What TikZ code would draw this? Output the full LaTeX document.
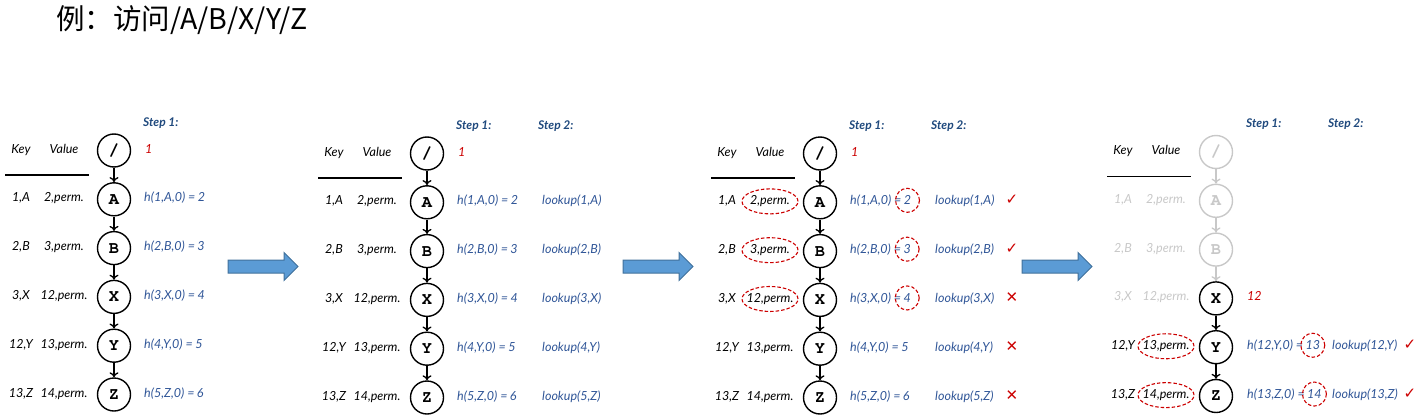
\documentclass[tikz,border=0pt]{standalone}
\usepackage{fontspec}
\setmainfont{Lato}
\setmonofont{TeX Gyre Cursor}
\newfontfamily\cjk{Noto Sans CJK SC}
\newfontfamily\symf{DejaVu Sans}
\usetikzlibrary{arrows.meta}

\definecolor{hashblue}{RGB}{47,85,151}
\definecolor{stepblue}{RGB}{31,73,125}
\definecolor{markred}{RGB}{204,0,0}
\definecolor{fadegray}{RGB}{200,200,200}
\definecolor{arrowfill}{RGB}{91,155,213}
\definecolor{arrowline}{RGB}{65,113,156}

\tikzset{
  dirnode/.style={circle, draw, line width=1.4pt, minimum size=33pt, inner sep=0pt, font=\ttfamily\bfseries\fontsize{17}{17}\selectfont},
  entry/.style={font=\itshape\fontsize{12.5}{12.5}\selectfont, inner sep=1pt},
  hashtext/.style={entry, text=hashblue},
  steplabel/.style={font=\bfseries\itshape\fontsize{12}{12}\selectfont, text=stepblue, anchor=mid west, inner sep=0pt},
  reddash/.style={draw=markred, line width=1.1pt, dash pattern=on 3.5pt off 2pt},
  walk/.style={-{To[length=5pt,width=9pt]}, line width=1.3pt},
  okmark/.style={font=\symf\fontsize{15}{15}\selectfont, text=markred, anchor=mid},
  bigarrow/.style={fill=arrowfill, draw=arrowline, line width=1pt}
}

\begin{document}
\begin{tikzpicture}[x=1pt,y=-1pt]
\useasboundingbox (0,0) rectangle (1421,420);

\node[anchor=west, inner sep=0pt, font=\cjk\fontsize{28.5}{28.5}\selectfont] (title) at (56,20) {例：访问/A/B/X/Y/Z};

% the three block arrows between the panels
\foreach \ax in {228,623,1022}{
  \draw[bigarrow] (\ax,260) -- (\ax+56,260) -- (\ax+56,252.5) -- (\ax+70,266.5) -- (\ax+56,280.5) -- (\ax+56,273) -- (\ax,273) -- cycle;
}

% panels 1 to 3: same tree, same table
\foreach \p/\cx/\cy in {1/114/150.5, 2/427/153.5, 3/820/153.5}{
  \node[dirnode] (c\p-0) at (\cx,\cy) {/};
  \node[entry, anchor=mid] (key\p) at (\cx-93,\cy) {Key};
  \node[entry, anchor=mid] (val\p) at (\cx-50,\cy) {Value};
  \draw[line width=1.5pt] (\cx-109,\cy+24.5) -- (\cx-25,\cy+24.5); %table rule
  \node[steplabel] (sa\p) at (\cx+29,\cy-27) {Step 1:};
  \node[entry, anchor=mid west, text=markred] (r\p-0) at (\cx+30,\cy) {1};
  \foreach \n/\k/\v [count=\i, remember=\i as \j (initially 0)] in {A/{1,A}/{2,perm.}, B/{2,B}/{3,perm.}, X/{3,X}/{12,perm.}, Y/{12,Y}/{13,perm.}, Z/{13,Z}/{14,perm.}}{
    \node[dirnode] (c\p-\i) at (\cx,\cy+\i*48.8) {\n};
    \draw[walk] (c\p-\j) -- (c\p-\i);
    \node[entry, anchor=mid] (k\p-\i) at (\cx-93,\cy+\i*48.8) {\k};
    \node[entry, anchor=mid] (v\p-\i) at (\cx-50,\cy+\i*48.8) {\v};
    \node[hashtext, anchor=mid west] (h\p-\i) at (\cx+29,\cy+\i*48.8) {h(\i,\n,0) =};
    \node[hashtext, anchor=base west] (n\p-\i) at (h\p-\i.base east) {\the\numexpr\i+1\relax};
  }
}

% step 2 in panels 2 and 3
\foreach \p/\cx/\cy in {2/427/153.5, 3/820/153.5}{
  \node[steplabel] (sb\p) at (\cx+111,\cy-27) {Step 2:};
  \foreach \n [count=\i] in {A,B,X,Y,Z}{
    \node[hashtext, anchor=mid west] (l\p-\i) at (\cx+114,\cy+\i*48.8) {lookup(\i,\n)};
  }
}

% panel 3: found A and B, X fails
\foreach \i in {1,2,3}{
  \draw[reddash] (v3-\i) ellipse (28pt and 12.5pt);
  \draw[reddash] (n3-\i) circle (12pt);
}
\node[okmark] (m3-1) at (1012,202.3) {✓};
\node[okmark] (m3-2) at (1012,251.1) {✓};
\node[okmark] (m3-3) at (1012,299.9) {✕};
\node[okmark] (m3-4) at (1012,348.7) {✕};
\node[okmark] (m3-5) at (1012,397.5) {✕};

% panel 4: restart from X
\node[dirnode, draw=fadegray, text=fadegray] (c4-0) at (1216,152) {/};
\node[entry, anchor=mid] (key4) at (1123,152) {Key};
\node[entry, anchor=mid] (val4) at (1166,152) {Value};
\draw[line width=1.5pt] (1107,176.5) -- (1191,176.5);
\node[steplabel] (sa4) at (1246,125) {Step 1:};
\node[steplabel] (sb4) at (1328,125) {Step 2:};
\foreach \n/\k/\v/\nc/\ac/\tc [count=\i, remember=\i as \j (initially 0)] in {A/{1,A}/{2,perm.}/fadegray/fadegray/fadegray, B/{2,B}/{3,perm.}/fadegray/fadegray/fadegray, X/{3,X}/{12,perm.}/black/fadegray/fadegray, Y/{12,Y}/{13,perm.}/black/black/black, Z/{13,Z}/{14,perm.}/black/black/black}{
  \node[dirnode, draw=\nc, text=\nc] (c4-\i) at (1216,152+\i*48.8) {\n};
  \draw[walk, draw=\ac] (c4-\j) -- (c4-\i);
  \node[entry, anchor=mid, text=\tc] (k4-\i) at (1123,152+\i*48.8) {\k};
  \node[entry, anchor=mid, text=\tc] (v4-\i) at (1166,152+\i*48.8) {\v};
}
\node[entry, anchor=mid west, text=markred] (r4-3) at (1246,298.4) {12};
\node[hashtext, anchor=mid west] (h4-4) at (1246,347.2) {h(12,Y,0) =};
\node[hashtext, anchor=base west] (n4-4) at (h4-4.base east) {13};
\node[hashtext, anchor=mid west] (h4-5) at (1246,396) {h(13,Z,0) =};
\node[hashtext, anchor=base west] (n4-5) at (h4-5.base east) {14};
\node[hashtext, anchor=mid west] (l4-4) at (1331,347.2) {lookup(12,Y)};
\node[hashtext, anchor=mid west] (l4-5) at (1331,396) {lookup(13,Z)};
\draw[reddash] (v4-4) ellipse (28pt and 12.5pt);
\draw[reddash] (v4-5) ellipse (28pt and 12.5pt);
\draw[reddash] (n4-4) circle (12pt);
\draw[reddash] (n4-5) circle (12pt);
\node[okmark] (m4-4) at (1410,347.2) {✓};
\node[okmark] (m4-5) at (1410,396) {✓};
\end{tikzpicture}
\end{document}
